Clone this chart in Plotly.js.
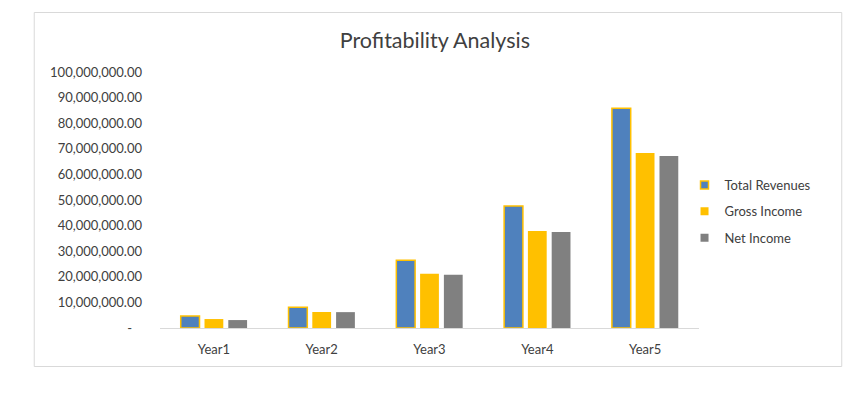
<!DOCTYPE html>
<html>
<head>
<meta charset="utf-8">
<script src="https://cdn.plot.ly/plotly-3.0.1.min.js"></script>
<style>html,body{margin:0;padding:0;background:#fff;}#chart{width:868px;height:397px;}</style>
</head>
<body>
<div id="chart"></div>
<script>
const categories = ["Year1", "Year2", "Year3", "Year4", "Year5"];
const totalRevenues = [4700000, 8100000, 26500000, 47700000, 85800000];
const grossIncome = [3500000, 6250000, 21200000, 37900000, 68400000];
const netIncome = [3100000, 6200000, 20800000, 37500000, 67200000];
const seriesNames = ["Total Revenues", "Gross Income", "Net Income"];
const yTickVals = [0, 10000000, 20000000, 30000000, 40000000, 50000000, 60000000, 70000000, 80000000, 90000000, 100000000];
const yTickText = ["-\u00a0\u00a0\u00a0", "10,000,000.00", "20,000,000.00", "30,000,000.00", "40,000,000.00", "50,000,000.00", "60,000,000.00", "70,000,000.00", "80,000,000.00", "90,000,000.00", "100,000,000.00"];

const W = 868, H = 397;
const L = 159.5, R = 168.5, T = 72, B = 69;
const pw = W - L - R, ph = H - T - B;
const px = x => (x - L) / pw;
const py = y => (H - B - y) / ph;

const FONT = "Lato, 'Open Sans', sans-serif";
const blue = "#4F81BD", gold = "#FFC000", gray = "#808080";

const traces = [
  {type: "bar", x: categories, y: totalRevenues, name: seriesNames[0], showlegend: false,
   marker: {color: blue, line: {color: gold, width: 1.5}}},
  {type: "bar", x: categories, y: grossIncome, name: seriesNames[1], showlegend: false,
   marker: {color: gold, line: {width: 0}}},
  {type: "bar", x: categories, y: netIncome, name: seriesNames[2], showlegend: false,
   marker: {color: gray, line: {width: 0}}},
  {type: "scatter", mode: "markers", x: [null], y: [null], name: seriesNames[0], legendgroup: "a",
   marker: {symbol: "square", size: 8, color: blue, line: {color: gold, width: 1.5}}},
  {type: "scatter", mode: "markers", x: [null], y: [null], name: seriesNames[1], legendgroup: "b",
   marker: {symbol: "square", size: 8, color: gold}},
  {type: "scatter", mode: "markers", x: [null], y: [null], name: seriesNames[2], legendgroup: "c",
   marker: {symbol: "square", size: 8, color: gray}}
];

const layout = {
  width: W, height: H,
  margin: {l: L, r: R, t: T, b: B, pad: 0},
  paper_bgcolor: "#fff", plot_bgcolor: "#fff",
  font: {family: FONT, size: 13, color: "#595959"},
  title: {text: "Profitability Analysis", font: {family: FONT, size: 21.5, color: "#404040"},
          xref: "container", x: 0.501, xanchor: "center", yref: "container", y: 1 - 40 / H, yanchor: "middle"},
  barmode: "group", bargap: 0.338, bargroupgap: 0.21,
  xaxis: {type: "category", showgrid: false, showline: true, linecolor: "#d9d9d9", linewidth: 1,
          ticks: "", ticklabelstandoff: 9, tickfont: {family: FONT, size: 13, color: "#404040"},
          fixedrange: true, zeroline: false},
  yaxis: {range: [0, 100000000], tickvals: yTickVals, ticktext: yTickText, showgrid: false,
          showline: false, zeroline: false, ticks: "", ticklabelstandoff: 17,
          tickfont: {family: FONT, size: 13, color: "#404040"}},
  showlegend: true,
  legend: {x: px(685), xanchor: "left", y: py(170), yanchor: "top", tracegroupgap: 6.5,
           font: {family: FONT, size: 13, color: "#404040"}, bgcolor: "rgba(0,0,0,0)", itemclick: false},
  shapes: [{type: "rect", xref: "paper", yref: "paper", x0: px(33.5), x1: px(842.5), y0: py(366.5), y1: py(12.5),
            line: {color: "#d9d9d9", width: 1}, fillcolor: "rgba(0,0,0,0)", layer: "below"}]
};

Plotly.newPlot("chart", traces, layout, {displayModeBar: false, staticPlot: true});
</script>
</body>
</html>
